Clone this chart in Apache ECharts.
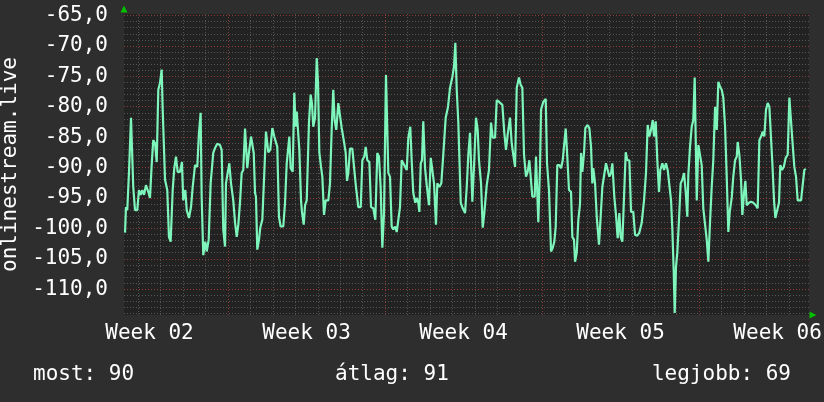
<!DOCTYPE html>
<html>
<head>
<meta charset="utf-8">
<script src="https://cdn.jsdelivr.net/npm/echarts@6/dist/echarts.min.js"></script>
<style>
html,body{margin:0;padding:0;background:#2e2e2e;}
#chart{width:824px;height:402px;}
</style>
</head>
<body>
<div id="chart"></div>
<script>
// time in hours since Monday of week 02
const hours = [57.8,58.8,60.2,62.0,64.2,65.6,66.6,68.5,70.9,72.7,74.5,76.3,78.1,80.2,82.7,84.5,86.3,88.0,89.9,91.7,93.4,95.2,97.0,98.1,100.6,103.0,104.8,106.6,108.8,110.5,112.3,114.1,116.6,118.7,120.1,122.3,123.8,126.2,128.4,130.2,132.7,135.1,136.9,138.7,139.8,141.5,143.7,145.2,147.3,149.4,152.2,154.1,156.5,159.4,161.2,162.9,164.8,165.8,167.6,169.4,171.2,173.6,175.5,
177.3,179.0,180.8,182.6,184.3,186.2,187.2,188.6,190.4,192.6,194.0,195.5,196.9,197.9,199.3,201.1,202.5,204.7,206.8,208.6,209.7,211.1,213.2,215.4,217.5,219.3,220.7,222.5,224.3,227.1,229.0,230.8,232.5,233.6,235.0,237.2,238.9,240.4,241.5,243.2,244.3,246.1,247.1,249.0,250.4,252.2,254.6,256.4,257.8,259.2,261.1,262.9,264.3,265.7,267.5,268.9,270.7,272.5,275.3,277.1,278.9,280.6,282.1,283.8,286.0,287.8,289.6,291.8,293.9,295.3,296.7,298.5,301.0,
302.8,304.9,307.4,310.0,311.7,313.8,315.3,317.0,319.2,321.0,323.4,325.6,327.7,329.5,331.3,333.1,334.9,337.0,338.1,339.5,341.3,343.1,344.8,346.7,348.5,350.2,352.0,353.8,355.5,357.4,359.2,360.9,363.0,364.5,366.2,368.4,369.9,371.6,372.7,374.2,375.5,376.9,378.8,380.6,383.0,384.9,386.6,388.4,390.5,391.9,394.1,396.2,398.3,400.9,403.4,405.5,408.0,409.8,411.2,412.7,414.4,417.0,419.1,421.6,
423.4,425.1,426.9,428.0,429.4,431.5,433.3,435.1,436.5,438.7,440.5,442.2,444.8,447.2,449.4,451.2,453.7,455.5,457.9,461.5,463.6,465.4,467.2,469.7,471.5,473.2,475.1,476.9,479.3,481.1,482.9,484.7,486.8,488.6,490.4,492.2,493.6,496.1,497.5,498.9,500.0,501.8,502.9,505.3,507.9,509.3,511.4,513.6,515.4,517.1,518.6,520.3,522.5,524.3,526.1,527.8,529.3,531.0,532.8,535.0,536.4,538.2,539.3,541.1,542.8,544.6,545.7,547.1,548.9,550.3,552.4,554.6,556.4,557.8,558.8,560.7,562.5,564.9,566.7,568.5,570.3,572.4,574.2,576.0,577.8,579.2,581.3,583.1,584.9,586.7,588.1,589.9,591.7,593.5,595.2,597.4,599.2,601.6,603.5,605.9,608.1,610.6,613.1,615.2,617.0,618.8,620.6,622.4,623.8,625.6,627.3,629.1,630.5,632.7,634.5,636.6,638.4,640.2,642.0,643.4,644.9,645.9,647.3,648.7,650.5,652.3,654.1,655.9,657.7,659.4,660.5,662.3,664.1,665.8,667.3,668.7,669.5,671.2,673.3,674.8,676.5,678.4,680.2,681.9,683.7,685.5,687.2,689.1,690.9,692.6,694.4,696.2,697.9,699.8,701.6,703.3,704.8,706.9,708.6,710.5,712.3,713.3,715.1,716.9,718.3,720.1,721.5,723.0,725.4,727.6,730.0,732.6,734.7,736.5,738.3,740.1,741.8,743.6,745.4,747.2,749.0,750.4,752.2,753.6,755.7,757.5,758.9,760.7,762.6,764.7,766.8,768.6,770.4,771.8,773.9,775.7,777.5,779.3,781.1,782.9,784.6,786.1];
const values = [-100.7,-96.5,-97,-90.9,-81.8,-81.8,-93.2,-97,-97,-93.7,-94.5,-93.7,-94.5,-92.9,-94,-95,-89.6,-85.5,-86,-89.1,-77.2,-76.1,-73.9,-80.5,-92,-93.7,-101.4,-102.2,-93.7,-90.1,-88.2,-90.7,-90.7,-89.1,-95.4,-93.7,-97,-98.3,-96.5,-93.2,-89.6,-89.9,-84.3,-81,-94.8,-104.4,-102.2,-103.8,-101.9,-92.6,-87.6,-86.8,-86.1,-86.3,-87.1,-100.2,-103,-92.6,-90.9,-89.3,-92.6,-95.4,-99,
-101.4,-99.4,-95.8,-90.9,-90.4,-83.6,-83.6,-90.1,-87.5,-84.9,-84.9,-87.6,-94.2,-94.8,-103.5,-101.9,-99.9,-98.6,-90.9,-84.1,-84.1,-87.5,-87.1,-83.5,-84.9,-85.1,-86.6,-98.1,-99.7,-99.7,-95.8,-89.3,-89.3,-84.9,-90.1,-90.7,-77.7,-83.3,-80.8,-80.8,-87.1,-95.4,-97.3,-99.4,-96.2,-95.4,-82.6,-78,-79.4,-83.3,-81.8,-72,-76.1,-87.5,-89.9,-91.5,-97.8,-95.4,-95.4,-92.6,-83.8,-77.2,-82.2,-83.8,-79.4,-79.4,-83.5,-85.5,-87.6,-92.2,-90.9,-86.9,-86.9,
-89.9,-93.2,-96.5,-96.5,-88.8,-88.2,-86.6,-88.8,-89.1,-96.5,-96.7,-98.6,-87.6,-88.2,-93.2,-103.2,-97.5,-74.8,-74.8,-90.9,-91.5,-99.7,-100.2,-99.7,-100.6,-98.6,-96.5,-88.8,-89.3,-89.1,-90.4,-85.1,-83.3,-88.8,-94.2,-95.8,-95,-95.8,-97.3,-89.3,-88.8,-82.4,-90.1,-92.9,-96.2,-88.4,-90.4,-92.6,-99.4,-92.6,-93.2,-92.6,-87.9,-81.8,-80,-76.9,-75.1,-73.4,-69.5,-77.2,-82.6,-95.8,-96.7,-97.5,
-93.2,-87.9,-84.3,-89.3,-95.6,-88.8,-81.8,-83.8,-88.8,-92.6,-99.9,-97.5,-92.9,-90.4,-82.6,-85.1,-85.1,-78.9,-79.2,-79.7,-84.3,-87.1,-84.6,-81.8,-86,-87.9,-89.9,-76.9,-75.2,-76.4,-76.9,-87.9,-91.5,-90.7,-88.8,-88.8,-94.8,-94.8,-88.2,-88.2,-99,-89.9,-80.5,-79.2,-78.7,-89.3,-93.7,-103.8,-103.2,-102.2,-99.7,-89.6,-89.6,-90.1,-88.8,-86,-83.6,-88.2,-93.7,-94,-101.4,-101.9,-105.5,-104,-98.6,-96,-87.6,-90.7,-87.6,-83.5,-83,-83.5,-86.6,-92.6,-90.1,-92.6,-98.1,-102.7,-98.1,-93.2,-92.9,-89.3,-89.3,-91.5,-90.9,-89.3,-94.8,-97.8,-101.6,-97.5,-101.4,-102.2,-94.8,-87.5,-88.8,-88.8,-97.3,-97.3,-101.1,-101.2,-100.7,-99.1,-95.4,-90.9,-83,-84.9,-83.8,-82.2,-84.9,-82.4,-88.8,-94,-90.4,-89.3,-90.4,-89.3,-90.4,-90.7,-95.4,-100.2,-107.3,-113.9,-106.3,-104,-98.6,-92.6,-92,-90.9,-94,-98.1,-91.2,-86.6,-83.3,-82.2,-75.2,-75.2,-95.4,-86.3,-86.6,-89.6,-96.7,-97,-101.9,-105.5,-99,-93.2,-88.8,-80,-83.8,-75.9,-76.7,-77.2,-78.5,-83.3,-91.7,-100.6,-97.3,-95,-91.5,-88.8,-88.2,-85.8,-87.9,-92,-97.8,-94.2,-92.2,-96.2,-95.8,-95.6,-95.8,-96.2,-96.7,-85.5,-84.9,-84.1,-84.9,-80.5,-79.4,-80,-80.2,-89.3,-95.4,-98.3,-98.1,-95.8,-89.6,-90.4,-89.9,-88.4,-87.9,-78.5,-78.5,-85.5,-89.9,-91.5,-95.4,-95.2,-95.4,-95.4,-90.4,-90.2];

const yTickValues = [-110,-105,-100,-95,-90,-85,-80,-75,-70,-65];
const weekLabels = ['Week 02','Week 03','Week 04','Week 05','Week 06'];
const weekLabelHours = [84,252,420,588,756];
const weekBoundaryHours = [168,336,504,672];
const dayHours = [72,96,120,144,192,216,240,264,288,312,360,384,408,432,456,480,528,552,576,600,624,648,696,720,744,768];
const minorYValues = [];
for (let v = -114; v <= -65; v++) if (v % 5 !== 0) minorYValues.push(v);

const statLabels = ['most', 'átlag', 'legjobb'];
const statValues = [90, 91, 69];

const FONT = 'DejaVu Sans Mono';
const data = hours.map((h, i) => [h, values[i]]);

const minorStyle = {color: '#555555', type: [1, 2], width: 1};
const majorStyle = {color: '#8c3a3a', type: [1, 2], width: 1};
const gridLines = [];
minorYValues.forEach(v => gridLines.push({yAxis: v, lineStyle: minorStyle}));
dayHours.forEach(h => gridLines.push({xAxis: h, lineStyle: minorStyle}));
yTickValues.forEach(v => gridLines.push({yAxis: v, lineStyle: majorStyle}));
weekBoundaryHours.forEach(h => gridLines.push({xAxis: h, lineStyle: majorStyle}));

const chart = echarts.init(document.getElementById('chart'), null, {renderer: 'canvas'});
chart.setOption({
  backgroundColor: '#2e2e2e',
  animation: false,
  grid: {left: 124, right: 15, top: 14, bottom: 87, show: true, backgroundColor: '#222222', borderWidth: 0, outerBoundsMode: 'none', containLabel: false},
  xAxis: {
    type: 'value', min: 56.7, max: 789.6,
    axisLine: {show: true, lineStyle: {color: '#00c000', width: 0}, symbol: ['none', 'triangle'], symbolSize: [7, 7], symbolOffset: [0, 4]},
    axisTick: {show: false},
    splitLine: {show: false},
    axisLabel: {
      customValues: weekLabelHours,
      formatter: v => weekLabels[weekLabelHours.indexOf(v)] || '',
      color: '#ffffff', fontFamily: FONT, fontSize: 21, margin: 8
    }
  },
  yAxis: {
    type: 'value', min: -114.25, max: -64.75,
    name: 'onlinestream.live', nameLocation: 'middle', nameRotate: 90, nameGap: 98,
    nameTextStyle: {color: '#ffffff', fontFamily: FONT, fontSize: 21},
    axisLine: {show: true, lineStyle: {color: '#00c000', width: 0}, symbol: ['none', 'triangle'], symbolSize: [7, 7], symbolOffset: [0, 5]},
    axisTick: {show: false},
    splitLine: {show: false},
    axisLabel: {
      customValues: yTickValues,
      formatter: v => v.toFixed(1).replace('.', ','),
      color: '#ffffff', fontFamily: FONT, fontSize: 21, margin: 16
    }
  },
  graphic: [
    {type: 'text', left: 33, top: 364, style: {text: statLabels[0] + ': ' + statValues[0], fill: '#ffffff', font: '21px "DejaVu Sans Mono"'}},
    {type: 'text', left: 335, top: 364, style: {text: statLabels[1] + ': ' + statValues[1], fill: '#ffffff', font: '21px "DejaVu Sans Mono"'}},
    {type: 'text', right: 33, top: 364, style: {text: statLabels[2] + ': ' + statValues[2], fill: '#ffffff', font: '21px "DejaVu Sans Mono"'}}
  ],
  series: [
    {
      type: 'line', data: [], silent: true, z: 1,
      markLine: {silent: true, z: 1, symbol: ['none', 'none'], label: {show: false}, animation: false, data: gridLines}
    },
    {
      type: 'line', data: data, z: 3, showSymbol: false, smooth: false,
      lineStyle: {color: '#7df5bb', width: 2.2}, itemStyle: {color: '#7df5bb'}
    }
  ]
});
</script>
</body>
</html>
